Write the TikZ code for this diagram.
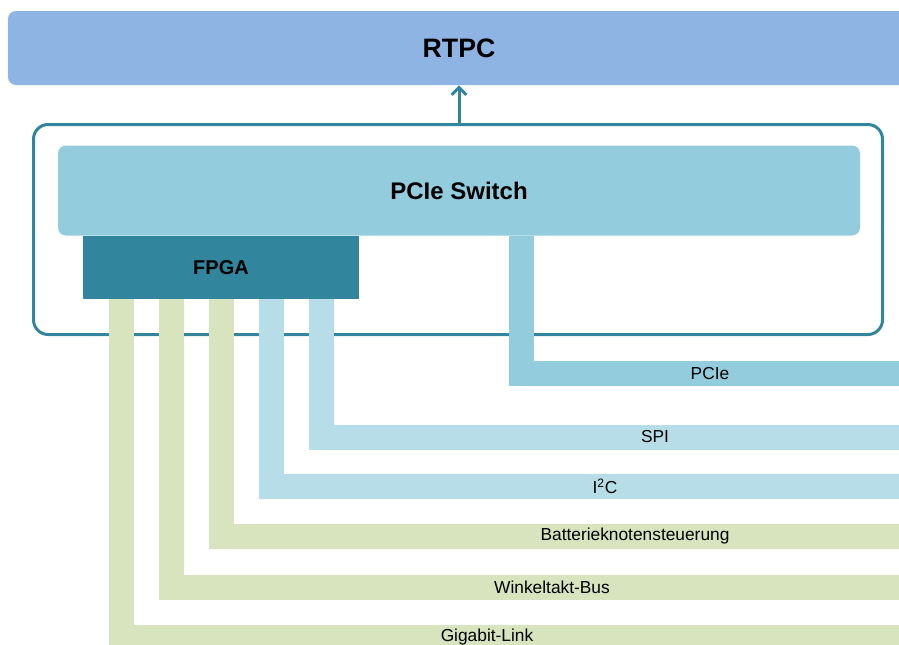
\documentclass[tikz,border=0pt]{standalone}
\usepackage{fontspec}
\setmainfont{Liberation Sans}
\usetikzlibrary{arrows.meta,calc}
\definecolor{rtpcblue}{HTML}{8EB4E3}
\definecolor{switchblue}{HTML}{93CDDD}
\definecolor{fpgateal}{HTML}{31859C}
\definecolor{buslightblue}{HTML}{B7DEE8}
\definecolor{busgreen}{HTML}{D7E4BD}
\tikzset{
	busline/.style={line width=18.75pt, line join=miter},
	buslabel/.style={font=\fontsize{13}{15}\selectfont, inner sep=0pt}
}
\begin{document}
\begin{tikzpicture}[x=0.75pt,y=-0.75pt]
	\useasboundingbox (0,0) rectangle (899,644);
	\node [fill=rtpcblue, rounded corners=6pt, minimum width=676.5pt, minimum height=55.5pt, inner sep=0pt, font=\bfseries\fontsize{20}{23}\selectfont] (rtpc) at (459,48) {RTPC};
	\node [draw=fpgateal, line width=2.25pt, rounded corners=11pt, minimum width=636.75pt, minimum height=157.5pt, inner sep=0pt] (board) at (458,229.5) {};
	\node [fill=switchblue, rounded corners=6pt, minimum width=601.5pt, minimum height=67.5pt, inner sep=0pt, font=\bfseries\fontsize{18}{21}\selectfont] (pcieswitch) at (459,190.5) {PCIe Switch};
	\node [fill=fpgateal, minimum width=207pt, minimum height=47.25pt, inner sep=0pt, font=\bfseries\fontsize{15}{18}\selectfont] (fpga) at (221,267.5) {FPGA};
	\draw [fpgateal, line width=2.25pt, -{Straight Barb[length=5.5pt,width=11pt]}] (board.north -| rtpc.south) -- (rtpc.south);
	\coordinate (pcie-end) at (910,373.5);
	\coordinate (spi-end) at (910,437);
	\coordinate (iic-end) at (910,486.5);
	\coordinate (bat-end) at (910,536.5);
	\coordinate (wt-end) at (910,587);
	\coordinate (gbit-end) at (910,637);
	\draw [busline, switchblue] (521.5,236) -- (521.5,373.5) -- (pcie-end);
	\draw [busline, buslightblue] ($(fpga.south)+(100,0)$) |- (spi-end);
	\draw [busline, buslightblue] ($(fpga.south)+(50,0)$) |- (iic-end);
	\draw [busline, busgreen] (fpga.south) |- (bat-end);
	\draw [busline, busgreen] ($(fpga.south)+(-50,0)$) |- (wt-end);
	\draw [busline, busgreen] ($(fpga.south)+(-100,0)$) |- (gbit-end);
	\node [buslabel] (pcie) at (710,373.5) {PCIe};
	\node [buslabel] (spi) at (655,437) {SPI};
	\node [buslabel] (iic) at (605,486.5) {I\textsuperscript{2}C};
	\node [buslabel] (bat) at (635,536.5) {Batterieknotensteuerung};
	\node [buslabel] (wt) at (552,587) {Winkeltakt-Bus};
	\node [buslabel] (gbit) at (487,637) {Gigabit-Link};
\end{tikzpicture}
\end{document}
